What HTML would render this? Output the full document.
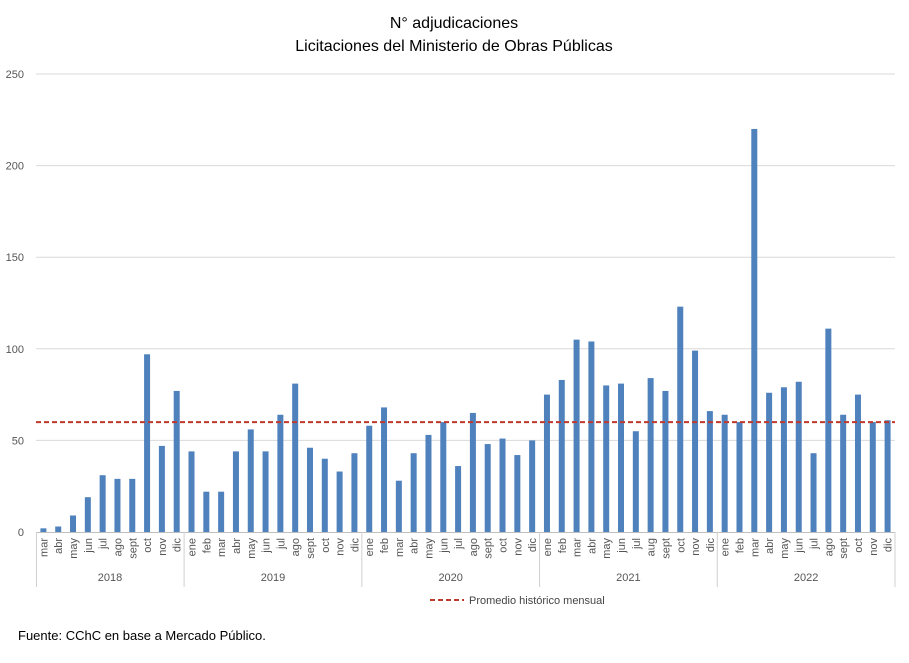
<!DOCTYPE html>
<html><head><meta charset="utf-8"><style>
body{margin:0;background:#fff;width:909px;height:658px;overflow:hidden;font-family:"Liberation Sans",sans-serif}
</style></head><body>
<svg id="c" width="909" height="658" xmlns="http://www.w3.org/2000/svg">
<text x="454" y="28" text-anchor="middle" font-size="16" fill="#000">N° adjudicaciones</text>
<text x="454" y="51" text-anchor="middle" font-size="16" fill="#000">Licitaciones del Ministerio de Obras Públicas</text>
<g id="grid"></g><g id="bars"></g><g id="xl"></g>
<line x1="430" y1="600" x2="464" y2="600" stroke="#c0392b" stroke-width="2" stroke-dasharray="5,3"/>
<text x="469" y="604" font-size="11" fill="#444">Promedio histórico mensual</text>
<text x="18" y="640" font-size="13" fill="#000">Fuente: CChC en base a Mercado Público.</text>
</svg>
<script>
const years=["2018","2019","2020","2021","2022"];
const months=[
["mar","abr","may","jun","jul","ago","sept","oct","nov","dic"],
["ene","feb","mar","abr","may","jun","jul","ago","sept","oct","nov","dic"],
["ene","feb","mar","abr","may","jun","jul","ago","sept","oct","nov","dic"],
["ene","feb","mar","abr","may","jun","jul","aug","sept","oct","nov","dic"],
["ene","feb","mar","abr","may","jun","jul","ago","sept","oct","nov","dic"]];
const values=[2,3,9,19,31,29,29,97,47,77,
44,22,22,44,56,44,64,81,46,40,33,43,
58,68,28,43,53,60,36,65,48,51,42,50,
75,83,105,104,80,81,55,84,77,123,99,66,
64,60,220,76,79,82,43,111,64,75,60,61];
const average=60;
const yTicks=[0,50,100,150,200,250];
const NS="http://www.w3.org/2000/svg";
const x0=36,x1=895,yb=532,yt=74,ymax=250;
const n=values.length,step=(x1-x0)/n;
const Y=v=>yb-(v/ymax)*(yb-yt);
const X=i=>x0+step*(i+0.5);
function mk(t,a,p){const e=document.createElementNS(NS,t);for(const k in a)e.setAttribute(k,a[k]);document.getElementById(p).appendChild(e);return e;}
yTicks.forEach(t=>{
 if(t>0){const l=mk("line",{x1:x0,x2:x1,y1:Y(t),y2:Y(t),stroke:"#d9d9d9","stroke-width":1},"grid");
 
 }
 const tx=mk("text",{x:24,y:Y(t)+4,"text-anchor":"end","font-size":"11",fill:"#555"},"grid");tx.textContent=t;
 
 
});
const ax=mk("line",{x1:x0,x2:x1,y1:yb+0.5,y2:yb+0.5,stroke:"#bfbfbf"},"grid");


values.forEach((v,i)=>{
 const r=mk("rect",{x:X(i)-3,y:Y(v),width:6,height:yb-Y(v),fill:"#4f81bd"},"bars");
 
 
});
let idx=0;
const sep0=mk("line",{x1:x0+0.5,x2:x0+0.5,y1:yb,y2:587,stroke:"#d0d0d0"},"xl");


years.forEach((yr,j)=>{
 const start=idx;
 months[j].forEach(m=>{
  const cx=X(idx);
  const t=mk("text",{x:0,y:0,"text-anchor":"end","font-size":"11",fill:"#555",transform:`translate(${cx+4},538) rotate(-90)`},"xl");t.textContent=m;
  
  
  idx++;
 });
 const xe=x0+step*idx;
 const s=mk("line",{x1:xe,x2:xe,y1:yb,y2:587,stroke:"#d0d0d0"},"xl");
 
 
 const yl=mk("text",{x:(x0+step*start+xe)/2,y:581,"text-anchor":"middle","font-size":"11",fill:"#555"},"xl");yl.textContent=yr;
 
 
});
const av=mk("line",{x1:x0,x2:x1,y1:Y(average),y2:Y(average),stroke:"#c0392b","stroke-width":2,"stroke-dasharray":"5,3"},"bars");


</script>
</body></html>
